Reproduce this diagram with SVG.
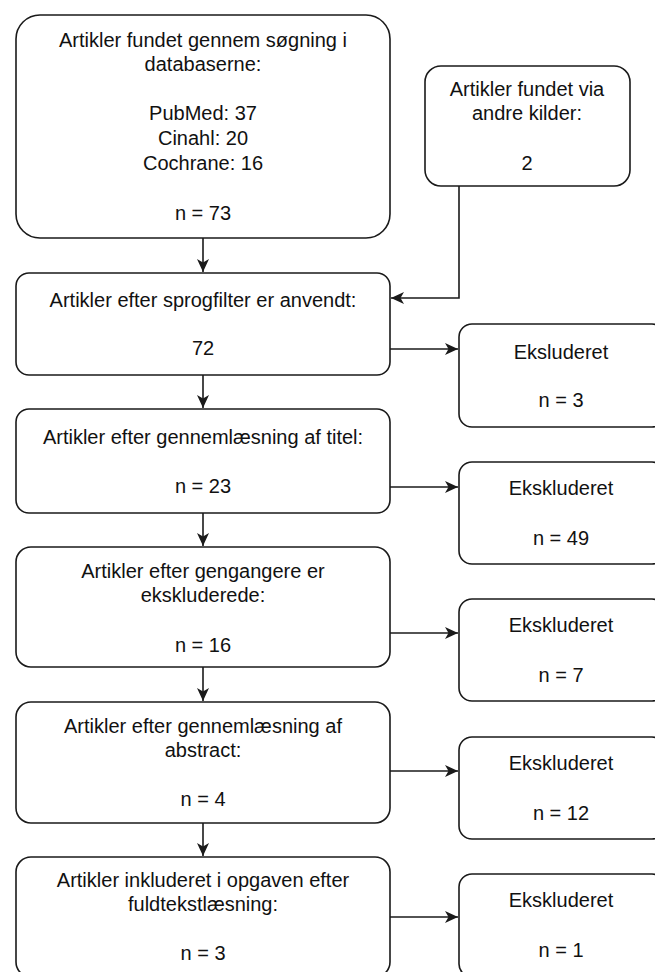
<svg xmlns="http://www.w3.org/2000/svg" width="655" height="972" viewBox="0 0 655 972">
<defs>
<style>
.box{fill:#fff;stroke:#1a1a1a;stroke-width:1.6}
.t{font-family:"Liberation Sans",Arial,Helvetica,sans-serif;font-size:20px;fill:#111;text-anchor:middle}
.c{fill:none;stroke:#1a1a1a;stroke-width:1.6}
</style>
<marker id="arr" markerUnits="userSpaceOnUse" markerWidth="14" markerHeight="12" viewBox="0 0 14 12" refX="13" refY="6" orient="auto">
<path d="M0,0 L13,6 L0,12 L3.5,6 z" fill="#1a1a1a"/>
</marker>
</defs>
<rect width="655" height="972" fill="#fff"/>
<g id="connectors">
<path class="c" d="M203,238 V272" marker-end="url(#arr)"/>
<path class="c" d="M459,186 V298 H391" marker-end="url(#arr)"/>
<path class="c" d="M390,349 H458" marker-end="url(#arr)"/>
<path class="c" d="M203,375 V408" marker-end="url(#arr)"/>
<path class="c" d="M390,487 H458" marker-end="url(#arr)"/>
<path class="c" d="M203,513 V546" marker-end="url(#arr)"/>
<path class="c" d="M390,633 H458" marker-end="url(#arr)"/>
<path class="c" d="M203,667 V701" marker-end="url(#arr)"/>
<path class="c" d="M390,771 H458" marker-end="url(#arr)"/>
<path class="c" d="M203,823 V856" marker-end="url(#arr)"/>
<path class="c" d="M390,917 H458" marker-end="url(#arr)"/>
</g>
<g id="n1">
<rect class="box" x="16" y="15" width="374" height="223" rx="24"/>
<text class="t" x="203" y="47">Artikler fundet gennem søgning i</text>
<text class="t" x="203" y="71">databaserne:</text>
<text class="t" x="203" y="120">PubMed: 37</text>
<text class="t" x="203" y="145">Cinahl: 20</text>
<text class="t" x="203" y="170">Cochrane: 16</text>
<text class="t" x="203" y="220">n = 73</text>
</g>
<g id="n2">
<rect class="box" x="425" y="66" width="205" height="120" rx="16"/>
<text class="t" x="527" y="96">Artikler fundet via</text>
<text class="t" x="527" y="120">andre kilder:</text>
<text class="t" x="527" y="170">2</text>
</g>
<g id="n3">
<rect class="box" x="16" y="273" width="374" height="102" rx="13"/>
<text class="t" x="203" y="307">Artikler efter sprogfilter er anvendt:</text>
<text class="t" x="203" y="355">72</text>
</g>
<g id="e1">
<rect class="box" x="459" y="324" width="206" height="103" rx="13"/>
<text class="t" x="561" y="359">Eksluderet</text>
<text class="t" x="561" y="407">n = 3</text>
</g>
<g id="n4">
<rect class="box" x="16" y="409" width="374" height="104" rx="13"/>
<text class="t" x="203" y="444">Artikler efter gennemlæsning af titel:</text>
<text class="t" x="203" y="493">n = 23</text>
</g>
<g id="e2">
<rect class="box" x="459" y="462" width="206" height="102" rx="13"/>
<text class="t" x="561" y="495">Ekskluderet</text>
<text class="t" x="561" y="545">n = 49</text>
</g>
<g id="n5">
<rect class="box" x="16" y="547" width="374" height="120" rx="15"/>
<text class="t" x="203" y="578">Artikler efter gengangere er</text>
<text class="t" x="203" y="602">ekskluderede:</text>
<text class="t" x="203" y="652">n = 16</text>
</g>
<g id="e3">
<rect class="box" x="459" y="599" width="206" height="102" rx="13"/>
<text class="t" x="561" y="632">Ekskluderet</text>
<text class="t" x="561" y="682">n = 7</text>
</g>
<g id="n6">
<rect class="box" x="16" y="702" width="374" height="121" rx="15"/>
<text class="t" x="203" y="733">Artikler efter gennemlæsning af</text>
<text class="t" x="203" y="757">abstract:</text>
<text class="t" x="203" y="806">n = 4</text>
</g>
<g id="e4">
<rect class="box" x="459" y="737" width="206" height="102" rx="13"/>
<text class="t" x="561" y="770">Ekskluderet</text>
<text class="t" x="561" y="820">n = 12</text>
</g>
<g id="n7">
<rect class="box" x="16" y="857" width="374" height="120" rx="15"/>
<text class="t" x="203" y="887">Artikler inkluderet i opgaven efter</text>
<text class="t" x="203" y="911">fuldtekstlæsning:</text>
<text class="t" x="203" y="960">n = 3</text>
</g>
<g id="e5">
<rect class="box" x="459" y="874" width="206" height="103" rx="13"/>
<text class="t" x="561" y="907">Ekskluderet</text>
<text class="t" x="561" y="957">n = 1</text>
</g>
</svg>
